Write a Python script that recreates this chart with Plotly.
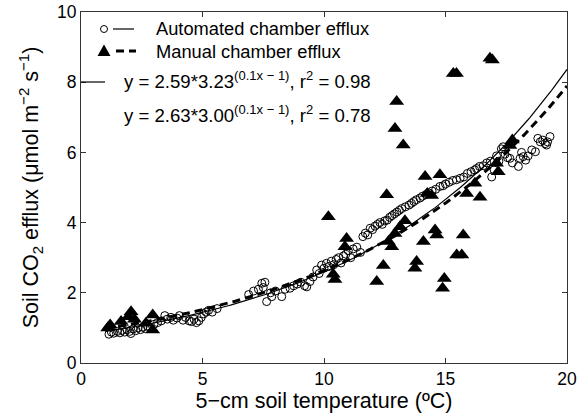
import numpy as np
import plotly.graph_objects as go

# ---------------- data ----------------
auto_x = [1.15, 1.25, 1.35, 1.5, 1.6, 1.7, 1.8, 1.9, 2.0, 2.05, 2.15, 2.25, 2.35, 2.45, 2.55, 2.65, 2.75, 2.85,
          3.0, 3.15, 3.3, 3.45, 3.55, 3.7, 3.8, 3.95, 4.05, 4.2, 4.3, 4.45, 4.55, 4.65, 4.75, 4.85, 4.95, 5.05, 5.15, 5.25,
          5.4, 5.6, 6.9, 7.1,
          7.3, 7.44, 7.5, 7.57, 7.64, 7.8, 7.85, 8.0, 8.26, 8.4, 8.6, 8.75, 8.9, 9.05, 9.2, 9.29, 9.42, 9.55, 9.7, 9.8, 9.9, 10.0, 10.1,
          10.2, 10.3, 10.4, 10.5, 10.6, 10.7, 10.8, 10.9, 11.0, 11.1, 11.2, 11.35, 11.5,
          11.6, 11.7, 11.8, 11.9, 12.0, 12.1, 12.2, 12.3, 12.4, 12.5, 12.6, 12.7, 12.8, 12.9, 13.0, 13.1, 13.2, 13.35, 13.5,
          13.6, 13.7, 13.8, 13.95, 14.05, 14.2, 14.3, 14.45, 14.6, 14.77, 14.9, 15.0, 15.15, 15.3, 15.45, 15.6, 15.75, 15.9,
          16.05, 16.2, 16.28, 16.4, 16.55, 16.7, 16.85,
          16.9, 17.0, 17.1, 17.2, 17.3, 17.37, 17.45, 17.55, 17.65, 17.75, 18.0, 18.07, 18.13, 18.2, 18.3, 18.4, 18.55, 18.7,
          18.8, 18.9, 19.0, 19.1, 19.16, 19.3, 19.2]
auto_y = [0.82, 0.88, 0.85, 0.9, 0.86, 0.93, 0.88, 0.95, 0.9, 0.84, 0.97, 0.92, 1.0, 0.95, 1.02, 0.98, 1.05, 1.0,
          1.1, 1.15, 1.2, 1.35, 1.25, 1.3, 1.22, 1.28, 1.35, 1.22, 1.3, 1.2, 1.18, 1.25, 1.15, 1.2, 1.3, 1.4, 1.45, 1.5,
          1.45, 1.55, 1.95, 2.05,
          2.1, 2.27, 2.15, 2.3, 1.75, 2.0, 1.89, 2.05, 1.89, 2.1, 2.13, 2.2, 2.25, 2.3, 2.2, 2.17, 2.32, 2.45, 2.65, 2.55, 2.79, 2.7, 2.84,
          2.75, 2.9, 2.8, 2.95, 3.0, 2.85, 3.05, 3.1, 3.2, 3.0, 3.25, 3.3, 3.15,
          3.6, 3.7, 3.65, 3.84, 3.8, 3.9, 3.95, 4.0, 3.95, 4.05, 4.07, 4.15, 4.2, 4.25, 4.3, 4.35, 4.4, 4.45, 4.5,
          4.55, 4.6, 4.65, 4.7, 4.75, 4.8, 4.85, 4.9, 4.95, 5.03, 5.05, 5.1, 5.15, 5.2, 5.22, 5.26, 5.3, 5.4,
          5.45, 5.5, 5.54, 5.6, 5.62, 5.7, 5.75,
          5.3, 5.5, 5.9, 5.75, 6.1, 6.16, 5.95, 5.85, 5.83, 5.7, 5.6, 5.83, 6.0, 5.88, 5.78, 5.9, 6.07, 6.02,
          6.4, 6.3, 6.35, 6.25, 6.21, 6.45, 6.3]

man_x = [1.1, 1.2, 1.65, 1.95, 2.06, 2.2, 2.67, 2.95, 2.95,
         10.18, 10.93, 10.86, 10.38, 10.45,
         12.58, 12.44, 12.17, 12.65, 12.79, 12.92, 13.13, 13.33,
         12.99, 12.92, 13.26,
         14.09, 13.81, 13.74, 14.57, 14.64, 15.73, 15.46, 15.67, 14.95, 14.88,
         14.16, 14.77, 14.25, 14.43,
         15.32, 15.45, 16.83, 16.93,
         15.87, 16.21, 16.42,
         17.1, 17.17, 17.65, 17.75]
man_y = [1.0, 1.08, 1.18, 1.32, 1.46, 1.25, 1.13, 0.94, 1.37,
         4.17, 3.55, 3.31, 2.53, 2.38,
         4.79, 2.78, 2.32, 3.46, 3.31, 3.69, 3.88, 4.05,
         7.45, 6.68, 6.21,
         3.46, 2.89, 2.70, 3.79, 3.65, 3.65, 3.08, 3.08, 2.41, 2.13,
         5.31, 5.36, 4.83, 4.77,
         8.25, 8.25, 8.68, 8.63,
         4.83, 5.12, 4.72,
         5.69, 5.45, 6.2, 6.35]

# fitted models y = a*b^(0.1x-1)
fit_auto = (2.59, 3.23)
fit_man = (2.63, 3.00)
fit_x_range = (1.0, 20.0)

x_ticks = [0, 5, 10, 15, 20]
y_ticks = [0, 2, 4, 6, 8, 10]

legend_labels = ["Automated chamber efflux", "Manual chamber efflux"]
eq_labels = ["y = 2.59*3.23<sup>(0.1x − 1)</sup>, r<sup>2</sup> = 0.98",
             "y = 2.63*3.00<sup>(0.1x − 1)</sup>, r<sup>2</sup> = 0.78"]

# ---------------- figure ----------------
FONT = "Liberation Sans, Arial, Helvetica, sans-serif"
W, H = 588, 416
L, R, T, B = 81, 21, 12, 53
PW, PH = W - L - R, H - T - B


def px(x):
    return (x - L) / PW


def py(y):
    return (H - B - y) / PH


xf = np.linspace(fit_x_range[0], fit_x_range[1], 200)
yf_auto = fit_auto[0] * fit_auto[1] ** (0.1 * xf - 1)
yf_man = fit_man[0] * fit_man[1] ** (0.1 * xf - 1)

fig = go.Figure()
fig.add_trace(go.Scatter(x=auto_x, y=auto_y, mode="markers",
                         marker=dict(symbol="circle-open", size=8, color="black",
                                     line=dict(width=1, color="black"))))
fig.add_trace(go.Scatter(x=man_x, y=man_y, mode="markers",
                         marker=dict(symbol="triangle-up", size=13, color="black",
                                     line=dict(width=0))))
fig.add_trace(go.Scatter(x=xf, y=yf_auto, mode="lines",
                         line=dict(color="black", width=1.2)))
fig.add_trace(go.Scatter(x=xf, y=yf_man, mode="lines",
                         line=dict(color="black", width=3, dash="8px,5px")))

axis_common = dict(showgrid=False, zeroline=False, showline=True, linecolor="#333",
                   linewidth=1, mirror="allticks", ticks="inside", ticklen=5, automargin=False,
                   tickcolor="#333", tickfont=dict(family=FONT, size=17.5, color="black"))

fig.update_xaxes(range=[0, 20], tickvals=x_ticks, ticktext=[str(v) for v in x_ticks],
                 title=dict(text="5−cm soil temperature (ºC)", font=dict(family=FONT, size=21.5, color="black"),
                            standoff=3),
                 **axis_common)
fig.update_yaxes(range=[0, 10], tickvals=y_ticks, ticktext=[str(v) for v in y_ticks],
                 title=dict(text="Soil CO<sub>2</sub> efflux (μmol m<sup>−2</sup> s<sup>−1</sup>)",
                            font=dict(family=FONT, size=21.5, color="black"), standoff=12),
                 **axis_common)

shapes = []
annotations = []
# legend row 1: circle + solid line
shapes.append(dict(type="circle", xref="paper", yref="paper", xsizemode="pixel", ysizemode="pixel",
                   xanchor=px(104), yanchor=py(29), x0=-3.5, x1=3.5, y0=-3.5, y1=3.5,
                   line=dict(color="black", width=1)))
shapes.append(dict(type="line", xref="paper", yref="paper", x0=px(113), x1=px(134), y0=py(29), y1=py(29),
                   line=dict(color="black", width=1.2)))
# legend row 2: triangle + dashed line
shapes.append(dict(type="path", xref="paper", yref="paper", xsizemode="pixel", ysizemode="pixel",
                   xanchor=px(104), yanchor=py(51), path="M -6.5 -5 L 6.5 -5 L 0 6.5 Z",
                   fillcolor="black", line=dict(width=0)))
shapes.append(dict(type="line", xref="paper", yref="paper", x0=px(116), x1=px(136), y0=py(51), y1=py(51),
                   line=dict(color="black", width=3, dash="8px,5px")))
# legend row 3: solid line sample
shapes.append(dict(type="line", xref="paper", yref="paper", x0=px(81), x1=px(105), y0=py(82), y1=py(82),
                   line=dict(color="black", width=1.2)))

for lbl, yy in zip(legend_labels, [29, 51]):
    annotations.append(dict(text=lbl, xref="paper", yref="paper", x=px(154), y=py(yy),
                            xanchor="left", yanchor="middle", showarrow=False,
                            font=dict(family=FONT, size=18.3, color="black")))
for lbl, yy in zip(eq_labels, [80, 114]):
    annotations.append(dict(text=lbl, xref="paper", yref="paper", x=px(122), y=py(yy),
                            xanchor="left", yanchor="middle", showarrow=False,
                            font=dict(family=FONT, size=18.6, color="black")))

fig.update_layout(width=W, height=H, margin=dict(l=L, r=R, t=T, b=B),
                  paper_bgcolor="white", plot_bgcolor="white", showlegend=False,
                  shapes=shapes, annotations=annotations)

fig.write_html("out.html")
